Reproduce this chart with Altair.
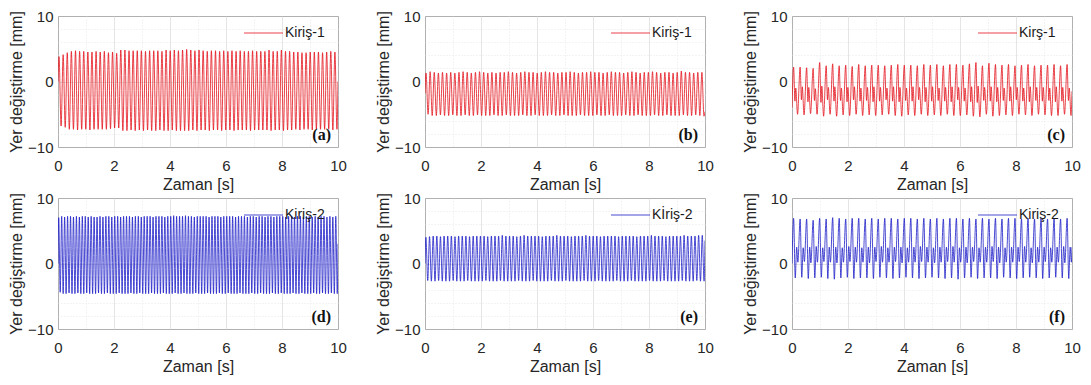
import altair as alt
import pandas as pd

T_END = 10.0
X_LABEL = "Zaman [s]"
Y_LABEL = "Yer değiştirme [mm]"
RED = "#e3121b"
BLUE = "#1c1cc8"

# ---------------- panel (a) : Kiriş-1, one peak + one trough per cycle
A_NAME = "Kiriş-1"
A_START, A_END = 0.0, 0.0
A_PEAK = [
    3.8, 4.1, 4.4, 4.6, 4.7, 4.6, 4.6, 4.5, 4.5, 4.6,
    4.5, 4.6, 4.4, 4.5, 4.3, 4.8, 4.8, 4.7, 4.7, 4.7,
    4.7, 4.6, 4.7, 4.7, 4.7, 4.6, 4.8, 4.7, 4.8, 4.7,
    4.8, 4.9, 4.8, 4.7, 4.8, 4.7, 4.6, 4.7, 4.7, 4.6,
    4.7, 4.6, 4.7, 4.6, 4.7, 4.6, 4.6, 4.7, 4.6, 4.6,
    4.6, 4.8, 4.6, 4.6, 4.8, 4.6, 4.6, 4.5, 4.5, 4.4,
    4.4, 4.5, 4.5, 4.5, 4.4, 4.5, 4.6, 4.5]
A_TROUGH = [
    -6.8, -7.0, -7.3, -7.3, -7.4, -7.3, -7.3, -7.4, -7.3, -7.3,
    -7.3, -7.3, -7.2, -7.1, -7.1, -7.5, -7.5, -7.4, -7.5, -7.4,
    -7.5, -7.4, -7.5, -7.5, -7.4, -7.5, -7.5, -7.4, -7.5, -7.5,
    -7.5, -7.5, -7.4, -7.5, -7.4, -7.4, -7.5, -7.4, -7.4, -7.5,
    -7.4, -7.4, -7.5, -7.4, -7.4, -7.4, -7.5, -7.4, -7.4, -7.4,
    -7.4, -7.5, -7.4, -7.4, -7.5, -7.4, -7.4, -7.3, -7.4, -7.3,
    -7.3, -7.4, -7.3, -7.3, -7.3, -7.3, -7.4, -7.3]

# ---------------- panel (b) : Kiriş-1
B_NAME = "Kiriş-1"
B_START, B_END = -1.8, -4.6
B_PEAK = [
    1.3, 1.5, 1.4, 1.3, 1.4, 1.3, 1.4, 1.3, 1.4, 1.5,
    1.4, 1.3, 1.4, 1.5, 1.4, 1.3, 1.4, 1.3, 1.4, 1.4,
    1.5, 1.4, 1.3, 1.4, 1.5, 1.4, 1.4, 1.3, 1.4, 1.5,
    1.4, 1.4, 1.3, 1.4, 1.4, 1.5, 1.4, 1.3, 1.4, 1.4,
    1.5, 1.4, 1.4, 1.3, 1.4, 1.5, 1.4, 1.4, 1.3, 1.4,
    1.5, 1.4, 1.3, 1.4, 1.4, 1.5, 1.4, 1.3, 1.4, 1.4,
    1.3, 1.4, 1.6, 1.4, 1.4, 1.3, 1.4, 1.4]
B_TROUGH = [
    -5.0, -5.2, -5.2, -5.1, -5.2, -5.2, -5.1, -5.2, -5.2, -5.1,
    -5.2, -5.2, -5.1, -5.2, -5.2, -5.2, -5.1, -5.2, -5.2, -5.1,
    -5.2, -5.2, -5.2, -5.1, -5.2, -5.2, -5.1, -5.2, -5.2, -5.2,
    -5.1, -5.2, -5.2, -5.1, -5.2, -5.2, -5.2, -5.1, -5.2, -5.2,
    -5.2, -5.1, -5.2, -5.2, -5.1, -5.2, -5.2, -5.2, -5.1, -5.2,
    -5.2, -5.1, -5.2, -5.2, -5.2, -5.1, -5.2, -5.2, -5.1, -5.2,
    -5.2, -5.2, -5.1, -5.2, -5.2, -5.1, -5.2, -5.3]

# ---------------- panel (c) : Kirş-1, peak / dip / bump / trough per cycle
C_NAME = "Kirş-1"
C_START, C_END = -4.0, -1.5
C_PEAK = [
    2.2, 2.2, 2.1, 2.0, 2.9, 2.4, 2.7, 2.4, 2.5, 2.3,
    2.6, 2.4, 2.5, 2.5, 2.4, 2.5, 2.6, 2.5, 2.5, 2.4,
    2.6, 2.5, 2.6, 2.4, 2.6, 2.6, 2.5, 2.7, 2.9, 2.4,
    2.8, 2.6, 2.5, 2.6, 2.4, 2.5, 2.6, 2.4, 2.5, 2.5,
    2.6, 2.4, 2.6]
C_DIP = [
    -3.0, -2.8, -3.1, -2.9, -3.2, -2.8, -3.0, -2.9, -3.1, -2.8,
    -3.0, -2.9, -3.1, -3.0, -2.8, -3.0, -3.1, -2.9, -3.0, -2.8,
    -3.1, -3.0, -2.9, -3.0, -3.1, -2.8, -3.0, -3.1, -3.2, -2.9,
    -3.0, -3.1, -2.9, -3.0, -2.8, -3.0, -3.1, -2.9, -3.0, -2.9,
    -3.1, -3.0, -2.9]
C_BUMP = [
    -1.0, -0.8, -0.9, -1.1, -0.7, -0.9, -0.8, -1.0, -0.9, -0.8,
    -1.0, -0.9, -0.8, -0.9, -1.0, -0.8, -0.9, -1.0, -0.8, -0.9,
    -0.9, -0.8, -1.0, -0.9, -0.8, -0.9, -1.0, -0.8, -0.7, -0.9,
    -0.8, -0.9, -1.0, -0.8, -0.9, -1.0, -0.8, -0.9, -0.9, -1.0,
    -0.8, -0.9, -1.0]
C_TROUGH = [
    -5.0, -5.1, -4.9, -5.0, -5.3, -5.0, -5.3, -5.1, -5.2, -5.0,
    -5.2, -5.1, -5.2, -5.1, -5.0, -5.2, -5.3, -5.1, -5.2, -5.0,
    -5.2, -5.1, -5.2, -5.0, -5.2, -5.2, -5.1, -5.3, -5.4, -5.0,
    -5.3, -5.2, -5.1, -5.2, -5.0, -5.1, -5.2, -5.0, -5.1, -5.2,
    -5.2, -5.0, -5.2]

# ---------------- panel (d) : Kiriş-2
D_NAME = "Kiriş-2"
D_START, D_END = 0.0, 3.0
D_PEAK = [
    7.0, 7.2, 7.1, 7.2, 7.2, 7.1, 7.2, 7.1, 7.2, 7.2,
    7.1, 7.2, 7.1, 7.1, 7.2, 7.1, 7.2, 7.2, 7.1, 7.2,
    7.2, 7.1, 7.2, 7.2, 7.2, 7.1, 7.2, 7.2, 7.1, 7.2,
    7.2, 7.2, 7.1, 7.2, 7.2, 7.2, 7.1, 7.2, 7.2, 7.3,
    7.2, 7.2, 7.2, 7.3, 7.2, 7.2, 7.1, 7.2, 7.2, 7.2,
    7.2, 7.1, 7.2, 7.2, 7.2, 7.1, 7.2, 7.2, 7.2, 7.2,
    7.1, 7.2, 7.2, 7.2, 7.1, 7.2, 7.2, 7.1, 7.2, 7.2,
    7.1, 7.2, 7.2, 7.1, 7.2, 7.2, 7.2, 7.1, 7.2, 7.2,
    7.1, 7.2, 7.2, 7.1, 7.2, 7.2, 7.1, 7.2, 7.1, 7.2,
    7.2, 7.1, 7.2, 7.1, 7.2]
D_TROUGH = [
    -4.4, -4.6, -4.6, -4.5, -4.6, -4.6, -4.5, -4.6, -4.6, -4.5,
    -4.6, -4.6, -4.6, -4.5, -4.6, -4.6, -4.5, -4.6, -4.6, -4.6,
    -4.5, -4.6, -4.6, -4.6, -4.5, -4.6, -4.6, -4.5, -4.6, -4.6,
    -4.6, -4.5, -4.6, -4.6, -4.6, -4.5, -4.6, -4.6, -4.6, -4.5,
    -4.6, -4.6, -4.5, -4.6, -4.6, -4.6, -4.5, -4.6, -4.6, -4.6,
    -4.5, -4.6, -4.6, -4.6, -4.5, -4.6, -4.6, -4.5, -4.6, -4.6,
    -4.6, -4.5, -4.6, -4.6, -4.6, -4.5, -4.6, -4.6, -4.5, -4.6,
    -4.6, -4.6, -4.5, -4.6, -4.6, -4.5, -4.6, -4.6, -4.6, -4.5,
    -4.6, -4.6, -4.5, -4.6, -4.6, -4.6, -4.5, -4.6, -4.6, -4.5,
    -4.6, -4.6, -4.5, -4.6, -4.6]

# ---------------- panel (e) : Kİriş-2
E_NAME = "Kİriş-2"
E_START, E_END = 0.0, 3.5
E_PEAK = [
    4.0, 4.1, 4.2, 4.2, 4.1, 4.2, 4.2, 4.2, 4.1, 4.2,
    4.2, 4.2, 4.1, 4.2, 4.2, 4.2, 4.2, 4.1, 4.2, 4.2,
    4.2, 4.3, 4.2, 4.2, 4.2, 4.1, 4.2, 4.3, 4.2, 4.2,
    4.2, 4.2, 4.1, 4.2, 4.2, 4.2, 4.3, 4.2, 4.2, 4.2,
    4.1, 4.2, 4.2, 4.2, 4.3, 4.2, 4.2, 4.2, 4.1, 4.2,
    4.2, 4.2, 4.2, 4.1, 4.2, 4.2, 4.2, 4.2, 4.1, 4.2,
    4.2, 4.2, 4.3, 4.2, 4.2, 4.2, 4.1, 4.2, 4.2, 4.2,
    4.2, 4.3, 4.2, 4.2, 4.2, 4.3, 4.3]
E_TROUGH = [
    -2.6, -2.7, -2.7, -2.6, -2.7, -2.7, -2.7, -2.6, -2.7, -2.7,
    -2.7, -2.6, -2.7, -2.7, -2.7, -2.7, -2.6, -2.7, -2.7, -2.7,
    -2.6, -2.7, -2.7, -2.7, -2.7, -2.6, -2.7, -2.7, -2.7, -2.6,
    -2.7, -2.7, -2.7, -2.7, -2.6, -2.7, -2.7, -2.7, -2.6, -2.7,
    -2.7, -2.7, -2.7, -2.6, -2.7, -2.7, -2.7, -2.6, -2.7, -2.7,
    -2.7, -2.7, -2.6, -2.7, -2.7, -2.7, -2.6, -2.7, -2.7, -2.7,
    -2.7, -2.6, -2.7, -2.7, -2.7, -2.6, -2.7, -2.7, -2.7, -2.7,
    -2.6, -2.7, -2.7, -2.7, -2.6, -2.7, -2.7]

# ---------------- panel (f) : Kiriş-2, peak / low / mid / low per cycle
F_NAME = "Kiriş-2"
F_START, F_END = 0.0, 2.5
F_PEAK = [
    6.9, 6.8, 6.8, 6.6, 6.9, 6.8, 7.0, 6.9, 6.8, 6.9,
    6.9, 6.8, 6.9, 6.8, 6.9, 6.9, 6.8, 6.9, 6.9, 6.8,
    6.9, 6.8, 6.9, 6.8, 6.9, 6.9, 6.8, 6.9, 6.8, 6.9,
    6.8, 6.9, 6.8, 6.9, 6.9, 6.8, 6.9, 6.8, 6.9, 6.8,
    6.9, 6.8, 6.9]
F_LOW1 = [
    -2.2, -2.1, -2.3, -2.2, -2.1, -2.3, -2.4, -2.2, -2.1, -2.3,
    -2.2, -2.2, -2.3, -2.1, -2.2, -2.3, -2.2, -2.1, -2.2, -2.3,
    -2.2, -2.1, -2.2, -2.3, -2.2, -2.4, -2.2, -2.1, -2.3, -2.2,
    -2.2, -2.3, -2.1, -2.2, -2.3, -2.2, -2.1, -2.2, -2.3, -2.2,
    -2.1, -2.2, -2.3]
F_MID = [
    2.5, 2.4, 2.5, 2.6, 2.4, 2.5, 2.5, 2.4, 2.6, 2.5,
    2.4, 2.5, 2.5, 2.6, 2.4, 2.5, 2.5, 2.4, 2.5, 2.6,
    2.5, 2.4, 2.5, 2.5, 2.6, 2.4, 2.5, 2.5, 2.4, 2.5,
    2.6, 2.5, 2.4, 2.5, 2.5, 2.6, 2.4, 2.5, 2.5, 2.4,
    2.5, 2.6, 2.5]
F_LOW2 = [
    0.2, 0.3, 0.1, 0.2, 0.3, 0.2, 0.1, 0.2, 0.3, 0.2,
    0.2, 0.1, 0.3, 0.2, 0.2, 0.3, 0.1, 0.2, 0.2, 0.3,
    0.2, 0.1, 0.2, 0.3, 0.2, 0.2, 0.1, 0.3, 0.2, 0.2,
    0.3, 0.1, 0.2, 0.2, 0.3, 0.2, 0.1, 0.2, 0.3, 0.2,
    0.2, 0.1, 0.2]

TAGS = ["(a)", "(b)", "(c)", "(d)", "(e)", "(f)"]

W, H = 280, 131
COL_GAP, ROW_GAP = 87, 51
PAD_L, PAD_T = 50, 8
SVG_W, SVG_H = 1074, 369


def cycles(start, end, features, phases):
    n = len(features[0])
    period = T_END / n
    rows = [(0.0, start)]
    for k in range(n):
        for vals, ph in zip(features, phases):
            rows.append(((k + ph) * period, vals[k]))
    rows.append((T_END, end))
    return pd.DataFrame(rows, columns=["t", "v"])


grid_dash = {"condition": {"test": "abs(datum.value % 2) < 0.001", "value": [1, 0]}, "value": [1, 2]}
grid_color = {"condition": {"test": "abs(datum.value % 2) < 0.001", "value": "#d6d6d6"}, "value": "#e2e2e2"}
ygrid_dash = {"condition": {"test": "abs(datum.value % 10) < 0.001", "value": [1, 0]}, "value": [1, 2]}
ygrid_color = {"condition": {"test": "abs(datum.value % 10) < 0.001", "value": "#d6d6d6"}, "value": "#e2e2e2"}

X_VALUES = [i * 0.5 for i in range(21)]
Y_VALUES = [-10 + 2 * i for i in range(11)]


def panel(df, name, color, tag):
    line = alt.Chart(df).mark_line(strokeWidth=0.8, interpolate="monotone", clip=True,
                                   color=color).encode(
        x=alt.X("t:Q", title=X_LABEL,
                scale=alt.Scale(domain=[0, 10], nice=False, zero=False),
                axis=alt.Axis(values=X_VALUES, format="d",
                              labelExpr="abs(datum.value % 2) < 0.001 ? datum.label : ''",
                              gridDash=grid_dash, gridColor=grid_color)),
        y=alt.Y("v:Q", title=Y_LABEL,
                scale=alt.Scale(domain=[-10, 10], nice=False),
                axis=alt.Axis(values=Y_VALUES, format="d",
                              labelExpr="abs(datum.value % 10) < 0.001 ? datum.label : ''",
                              gridDash=ygrid_dash, gridColor=ygrid_color)),
    )
    info = pd.DataFrame({"tag": [tag], "name": [name]})
    key_line = alt.Chart(info).mark_rule(color=color, strokeWidth=1, opacity=0.8).encode(
        x=alt.value(186), x2=alt.value(225), y=alt.value(17))
    key_text = alt.Chart(info).mark_text(
        font="Liberation Sans", fontSize=14, align="left", baseline="middle", color="#1a1a1a"
    ).encode(text="name:N", x=alt.value(227), y=alt.value(17))
    label = alt.Chart(info).mark_text(
        font="Liberation Serif", fontWeight="bold", fontSize=16, align="right",
        baseline="bottom", color="#111111"
    ).encode(text="tag:N", x=alt.value(W - 7), y=alt.value(H - 4))
    return alt.layer(line, key_line, key_text, label).properties(width=W, height=H)


df_a = cycles(A_START, A_END, [A_PEAK, A_TROUGH], [0.25, 0.75])
df_b = cycles(B_START, B_END, [B_PEAK, B_TROUGH], [0.25, 0.75])
df_c = cycles(C_START, C_END, [C_PEAK, C_DIP, C_BUMP, C_TROUGH], [0.25, 0.45, 0.58, 0.85])
df_d = cycles(D_START, D_END, [D_PEAK, D_TROUGH], [0.25, 0.75])
df_e = cycles(E_START, E_END, [E_PEAK, E_TROUGH], [0.25, 0.75])
df_f = cycles(F_START, F_END, [F_PEAK, F_LOW1, F_MID, F_LOW2], [0.25, 0.5, 0.72, 0.9])

panels = [
    panel(df_a, A_NAME, RED, TAGS[0]),
    panel(df_b, B_NAME, RED, TAGS[1]),
    panel(df_c, C_NAME, RED, TAGS[2]),
    panel(df_d, D_NAME, BLUE, TAGS[3]),
    panel(df_e, E_NAME, BLUE, TAGS[4]),
    panel(df_f, F_NAME, BLUE, TAGS[5]),
]

chart = alt.concat(*panels, columns=3, spacing=alt.RowColnumber(row=ROW_GAP, column=COL_GAP),
                   bounds="flush").properties(
    autosize=alt.AutoSizeParams(type="none"),
    padding={"left": PAD_L, "top": PAD_T, "right": SVG_W - PAD_L, "bottom": SVG_H - PAD_T}
).configure_view(
    stroke="#6e6e6e", strokeWidth=1
).configure_axis(
    labelFont="Liberation Sans", titleFont="Liberation Sans",
    labelFontSize=15, titleFontSize=16, labelColor="#262626", titleColor="#262626",
    titleFontWeight="normal", ticks=False, domain=False, labelFlush=False,
    labelOverlap=False, gridWidth=0.8
).configure_axisX(
    labelPadding=11, titlePadding=3
).configure_axisY(
    labelPadding=5, titlePadding=3
)

chart.save("out.html", embed_options={"renderer": "svg", "actions": False})
